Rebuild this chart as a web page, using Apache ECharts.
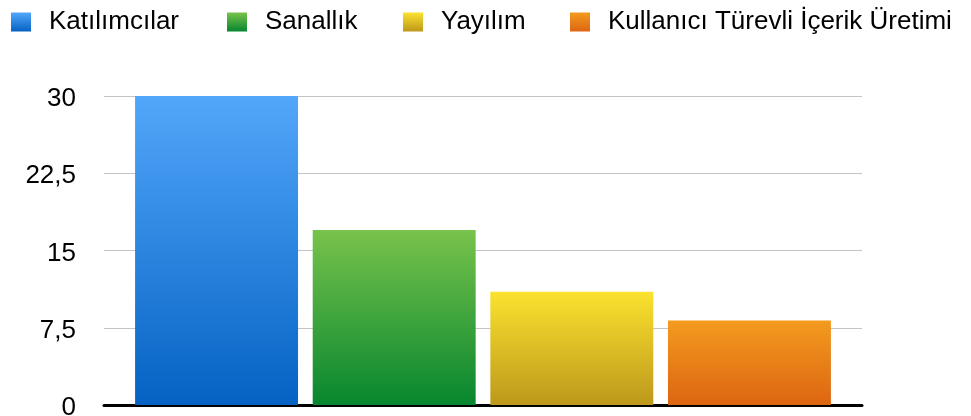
<!DOCTYPE html>
<html>
<head>
<meta charset="utf-8">
<script src="https://cdn.jsdelivr.net/npm/echarts@6/dist/echarts.min.js"></script>
<style>
    html, body {margin: 0; padding: 0; background: #fff;}
    #chart {width: 971px; height: 416px;}
</style>
</head>
<body>
<div id="chart"></div>
<script>
// 数据
const categories = [''];
const seriesNames = ['Katılımcılar', 'Sanallık', 'Yayılım', 'Kullanıcı Türevli İçerik Üretimi'];
const seriesValues = [30, 17, 11, 8.2];
const yTicks = [0, 7.5, 15, 22.5, 30];
const yTickLabels = ['0', '7,5', '15', '22,5', '30'];

// 渐变色 (top, bottom)
const colors = [
    ['#53a7fa', '#0562c3'],
    ['#78c34b', '#07862f'],
    ['#fbe22e', '#bd981c'],
    ['#f39b1f', '#dd6511'],
];
const legendLeft = [11, 227, 403, 570];

const grad = c => new echarts.graphic.LinearGradient(0, 0, 0, 1, [
    {offset: 0, color: c[0]},
    {offset: 1, color: c[1]},
]);

const chart = echarts.init(document.getElementById('chart'), null, {renderer: 'canvas'});

const option = {
    animation: false,
    textStyle: {fontFamily: '"Liberation Sans", Arial, sans-serif'},
    legend: seriesNames.map((name, i) => ({
        data: [name],
        left: legendLeft[i],
        top: 9,
        padding: 0,
        itemWidth: 20,
        itemHeight: 19,
        icon: 'rect',
        textStyle: {
            fontSize: 26,
            color: '#000',
            padding: [2, 0, 0, 13],
            lineHeight: 19,
        },
    })),
    grid: {left: 104, right: 109, top: 96, bottom: 11, outerBoundsMode: 'none', containLabel: false},
    xAxis: {
        type: 'category',
        data: categories,
        axisLine: {lineStyle: {color: '#000', width: 3}},
        axisTick: {show: false},
        axisLabel: {show: false},
    },
    yAxis: {
        type: 'value',
        min: 0,
        max: 30,
        interval: 7.5,
        axisLine: {show: false},
        axisTick: {show: false},
        splitLine: {lineStyle: {color: '#c4c4c4', width: 1}},
        axisLabel: {
            fontSize: 26,
            color: '#000',
            margin: 28,
            verticalAlign: 'top',
            lineHeight: 6,
            formatter: v => yTickLabels[yTicks.indexOf(v)],
        },
    },
    series: seriesNames.map((name, i) => ({
        name,
        type: 'bar',
        data: [seriesValues[i]],
        barCategoryGap: '8.2%',
        barGap: '9%',
        itemStyle: {color: grad(colors[i])},
    })),
};

chart.setOption(option);
</script>
</body>
</html>
